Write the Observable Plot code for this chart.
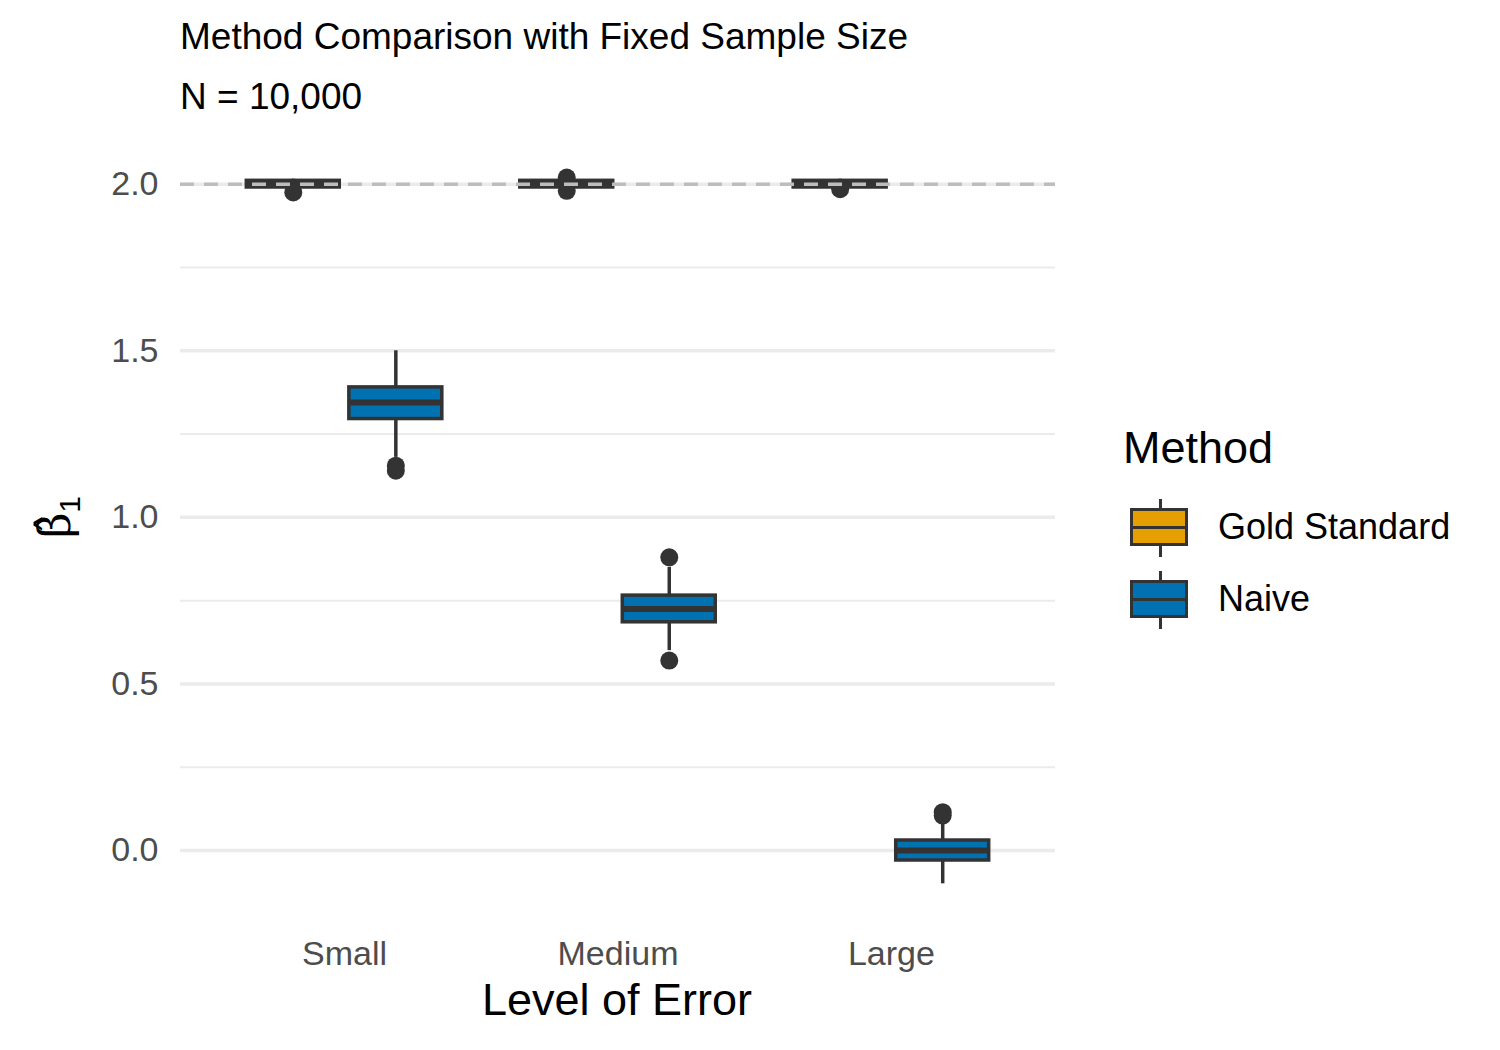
<!DOCTYPE html>
<html>
<head>
<meta charset="utf-8">
<script src="https://cdn.jsdelivr.net/npm/d3@7"></script>
<script src="https://cdn.jsdelivr.net/npm/@observablehq/plot@0.6"></script>
<style>
  body { margin: 0; background: #fff; font-family: "Liberation Sans", Arial, sans-serif; }
  #wrap { position: relative; width: 1500px; height: 1050px; }
  #chart { position: absolute; left: 0; top: 0; }
  .t { position: absolute; white-space: nowrap; color: #000; }
  .key { position: absolute; width: 58px; height: 38px; border: 3px solid #333; box-sizing: border-box; }
  .key::before { content: ""; position: absolute; left: 26px; width: 3px; top: -12px; height: 58px; background: #333; z-index: -1; }
  .key::after { content: ""; position: absolute; left: 0; right: 0; top: 15px; height: 3px; background: #333; }
</style>
</head>
<body>
<div id="wrap">
  <div id="chart"></div>
  <div class="t" style="left:180px;top:16px;font-size:37px;">Method Comparison with Fixed Sample Size</div>
  <div class="t" style="left:180px;top:76px;font-size:37px;">N = 10,000</div>
  <div class="t" style="left:617px;top:974px;font-size:45px;transform:translateX(-50%);">Level of Error</div>
  <div class="t" style="left:58px;top:517px;font-size:44px;transform:translate(-50%,-50%) rotate(-90deg);font-family:'DejaVu Serif',serif;">β̂<sub style="font-size:30px;font-family:'Liberation Sans',sans-serif;">1</sub></div>
  <div class="t" style="left:1123px;top:422px;font-size:45px;">Method</div>
  <div class="key" style="left:1130px;top:508px;background:#E69F00;"></div>
  <div class="t" style="left:1218px;top:506px;font-size:36px;">Gold Standard</div>
  <div class="key" style="left:1130px;top:580px;background:#0072B2;"></div>
  <div class="t" style="left:1218px;top:578px;font-size:36px;">Naive</div>
</div>
<script>
const categories = ["Small", "Medium", "Large"];
const methods = ["Gold Standard", "Naive"];
const colors = ["#E69F00", "#0072B2"];

// summary stats per [category][method]
const q1     = [[1.99, 1.295], [1.99, 0.685], [1.99, -0.03]];
const median = [[2.00, 1.345], [2.00, 0.725], [2.00, 0.00]];
const q3     = [[2.01, 1.39],  [2.01, 0.765], [2.01, 0.03]];
const wlo    = [[1.985, 1.18], [1.985, 0.60], [1.985, -0.10]];
const whi    = [[2.015, 1.50], [2.015, 0.85], [2.015, 0.08]];
const outliers = [
  [[1.975], [1.155, 1.14]],
  [[1.98, 2.02], [0.88, 0.57]],
  [[1.985], [0.115, 0.105]]
];

const dodge = 0.1875, half = 0.17;
const boxes = [];
const outs = [];
categories.forEach((c, i) => methods.forEach((m, j) => {
  const x = i + 1 + (j === 0 ? -dodge : dodge);
  boxes.push({c, m, x, x1: x - half, x2: x + half, q1: q1[i][j], med: median[i][j], q3: q3[i][j], lo: wlo[i][j], hi: whi[i][j]});
  outliers[i][j].forEach(v => outs.push({x, v}));
}));

const chart = Plot.plot({
  width: 1100, height: 1050,
  marginLeft: 180, marginRight: 45, marginTop: 167, marginBottom: 160,
  style: {fontFamily: "Liberation Sans, Arial, sans-serif", fontSize: "34px", color: "#4d4d4d"},
  x: {domain: [0.4, 3.6], ticks: [1, 2, 3], tickFormat: d => categories[d - 1], tickSize: 0, tickPadding: 50, label: null},
  y: {domain: [-0.12, 2.05], ticks: [0, 0.5, 1, 1.5, 2], tickFormat: d3.format(".1f"), tickSize: 0, tickPadding: 22, label: null},
  color: {domain: methods, range: colors},
  marks: [
    Plot.ruleY([0.25, 0.75, 1.25, 1.75], {stroke: "#ebebeb", strokeWidth: 2}),
    Plot.ruleY([0, 0.5, 1, 1.5, 2], {stroke: "#ebebeb", strokeWidth: 3.5}),
    Plot.ruleX(boxes, {x: "x", y1: "lo", y2: "hi", stroke: "#333", strokeWidth: 3.5}),
    Plot.rect(boxes, {x1: "x1", x2: "x2", y1: "q1", y2: "q3", fill: "m", stroke: "#333", strokeWidth: 3.5}),
    Plot.ruleY(boxes, {x1: "x1", x2: "x2", y: "med", stroke: "#333", strokeWidth: 6}),
    Plot.dot(outs, {x: "x", y: "v", r: 9, fill: "#333"}),
    Plot.ruleY([2], {stroke: "#bdbdbd", strokeWidth: 3.5, strokeDasharray: "14,10"})
  ]
});
document.getElementById("chart").append(chart);
</script>
</body>
</html>
